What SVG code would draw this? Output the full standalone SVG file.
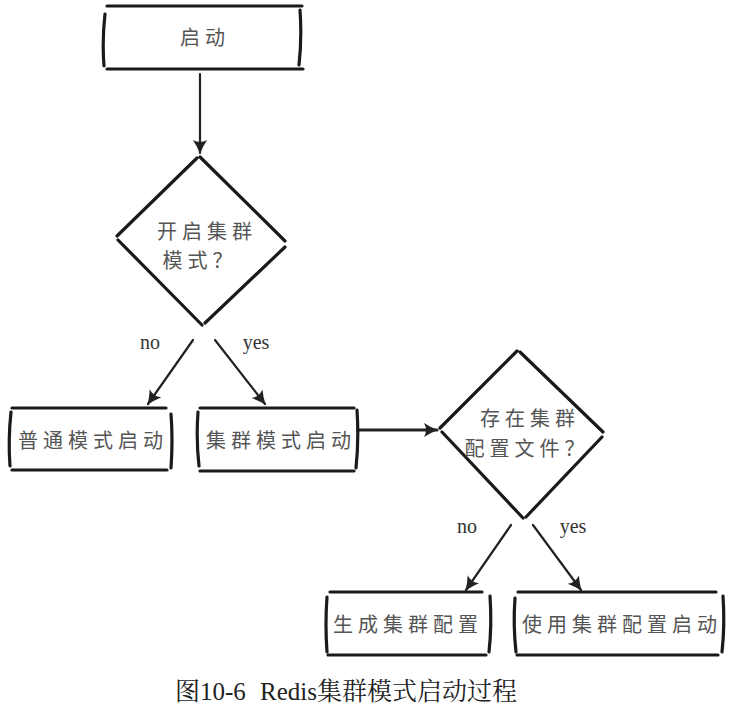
<svg xmlns="http://www.w3.org/2000/svg" width="731" height="724" viewBox="0 0 731 724">
<defs>
<style>
.ln{fill:none;stroke:#1a1a1a;stroke-width:3.2;stroke-linecap:round;stroke-linejoin:round}
.cn{fill:none;stroke:#222;stroke-width:2.2;stroke-linecap:round}
.cn3{fill:none;stroke:#222;stroke-width:3.2;stroke-linecap:round}
.t{font-family:"Noto Sans CJK SC",sans-serif;font-size:20px;fill:#555;text-anchor:middle;letter-spacing:5px}
.lb{font-family:"Liberation Serif",serif;font-size:20px;fill:#333;text-anchor:middle}
.cap{font-family:"Liberation Serif","Noto Serif CJK SC","Noto Sans CJK SC",serif;font-size:25px;fill:#222}
</style>
<marker id="ah" markerWidth="16" markerHeight="16" refX="13" refY="7" orient="auto" markerUnits="userSpaceOnUse">
<path d="M0,0 Q6,4 14,7 Q6,10 0,14 Q4,7 0,0 Z" fill="#222"/>
</marker>
</defs>
<rect width="731" height="724" fill="#fff"/>
<g id="connectors">
<path class="cn" d="M200,74 L200,153" marker-end="url(#ah)"/>
<path class="cn" d="M193,340 L148,404" marker-end="url(#ah)"/>
<path class="cn" d="M215,340 L265,404" marker-end="url(#ah)"/>
<path class="cn3" d="M358,430 L437,430" marker-end="url(#ah)"/>
<path class="cn" d="M511,525 L466,590" marker-end="url(#ah)"/>
<path class="cn" d="M533,525 L581,590" marker-end="url(#ah)"/>
<text class="lb" x="150" y="349">no</text>
<text class="lb" x="256" y="349">yes</text>
<text class="lb" x="467" y="533">no</text>
<text class="lb" x="573" y="533">yes</text>
</g>
<g id="start">
<path class="ln" d="M107,6 L302,6 M107,69 L303,69 M105,14 Q102,40 104,66 M300,10 Q302,38 299,65"/>
<text class="t" x="205" y="45">启动</text>
</g>
<g id="decision1">
<path class="ln" d="M197,158 L117,236 M200,157 L285,241 M118,240 L202,325 M205,323 L285,247"/>
<text class="t" x="207" y="239">开启集群</text>
<text class="t" x="200" y="268">模式？</text>
</g>
<g id="normal">
<path class="ln" d="M12,408 L166,408 M12,470 L167,470 M11,412 Q8,440 10,466 M171,414 Q173,440 171,468"/>
<text class="t" x="93" y="448">普通模式启动</text>
</g>
<g id="cluster">
<path class="ln" d="M200,408 L354,408 M200,471 L354,471 M198,412 Q196,440 199,466 M357,410 Q359,440 356,468"/>
<text class="t" x="281" y="448">集群模式启动</text>
</g>
<g id="decision2">
<path class="ln" d="M517,351 L440,428 M520,352 L603,432 M442,432 L523,518 M526,517 L602,437"/>
<text class="t" x="530" y="426">存在集群</text>
<text class="t" x="527" y="456">配置文件？</text>
</g>
<g id="gen">
<path class="ln" d="M330,592 L482,592 M328,655 L486,655 M327,597 Q325,625 327,652 M490,596 Q492,625 489,652"/>
<text class="t" x="408" y="632">生成集群配置</text>
</g>
<g id="use">
<path class="ln" d="M518,592 L716,592 M517,655 L718,655 M515,598 Q513,625 516,652 M723,596 Q725,625 722,652"/>
<text class="t" x="622" y="632">使用集群配置启动</text>
</g>
<text class="cap" x="175" y="700">图10-6<tspan x="260">Redis集群模式启动过程</tspan></text>
</svg>
